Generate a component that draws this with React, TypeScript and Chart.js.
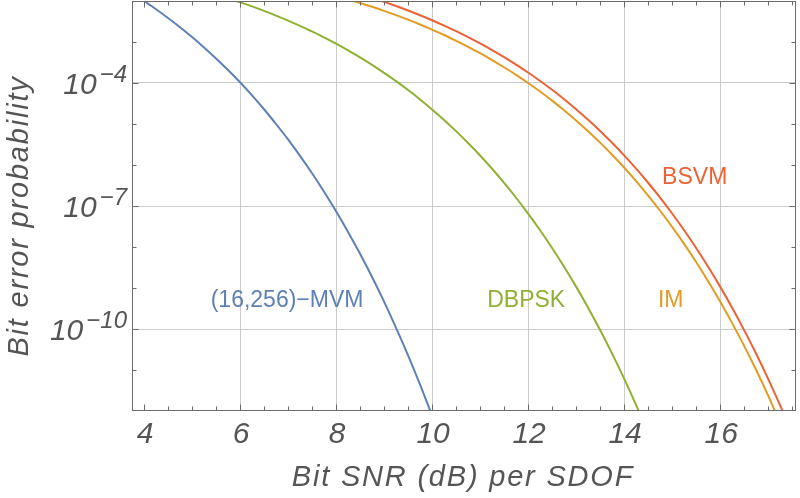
import { useEffect, useRef } from 'react'
import { Chart, registerables } from 'chart.js'

Chart.register(...registerables)

// Bit SNR (dB) per SDOF, one list per curve
const MVM_SNR = [
  3.75, 4, 4.25, 4.5, 4.75, 5, 5.25, 5.5, 5.75, 6, 6.25, 6.5, 6.75, 7, 7.25, 7.5, 7.75, 8, 8.25, 8.5,
  8.75, 9, 9.25, 9.5, 9.75, 10,
]
const MVM_BER = [
  1.5e-2, 1.0e-2, 6.3e-3, 3.85e-3, 2.29e-3, 1.32e-3, 7.38e-4, 3.98e-4, 2.07e-4, 1.04e-4, 4.98e-5,
  2.29e-5, 1.0e-5, 4.21e-6, 1.67e-6, 6.28e-7, 2.23e-7, 7.45e-8, 2.33e-8, 6.81e-9, 1.85e-9, 4.65e-10,
  1.07e-10, 2.28e-11, 4.42e-12, 7.8e-13,
]

const DBPSK_SNR = [
  5.75, 6, 6.25, 6.5, 6.75, 7, 7.25, 7.5, 7.75, 8, 8.25, 8.5, 8.75, 9, 9.25, 9.5, 9.75, 10, 10.25,
  10.5, 10.75, 11, 11.25, 11.5, 11.75, 12, 12.25, 12.5, 12.75, 13, 13.25, 13.5, 13.75, 14, 14.25, 14.5,
]
const DBPSK_BER = [
  1.17e-2, 9.33e-3, 7.38e-3, 5.74e-3, 4.41e-3, 3.33e-3, 2.47e-3, 1.81e-3, 1.29e-3, 9.1e-4, 6.25e-4,
  4.21e-4, 2.77e-4, 1.77e-4, 1.11e-4, 6.73e-5, 3.97e-5, 2.27e-5, 1.26e-5, 6.7e-6, 3.44e-6, 1.71e-6,
  8.09e-7, 3.67e-7, 1.59e-7, 6.55e-8, 2.56e-8, 9.46e-9, 3.3e-9, 1.08e-9, 3.31e-10, 9.46e-11, 2.51e-11,
  6.17e-12, 1.39e-12, 2.88e-13,
]

const IM_SNR = [
  8.25, 8.5, 8.75, 9, 9.25, 9.5, 9.75, 10, 10.25, 10.5, 10.75, 11, 11.25, 11.5, 11.75, 12, 12.25, 12.5,
  12.75, 13, 13.25, 13.5, 13.75, 14, 14.25, 14.5, 14.75, 15, 15.25, 15.5, 15.75, 16, 16.25, 16.5,
  16.75, 17, 17.25,
]
const IM_BER = [
  1.1e-2, 8.95e-3, 7.21e-3, 5.75e-3, 4.52e-3, 3.5e-3, 2.67e-3, 2.0e-3, 1.48e-3, 1.07e-3, 7.64e-4,
  5.32e-4, 3.63e-4, 2.42e-4, 1.58e-4, 1.0e-4, 6.19e-5, 3.72e-5, 2.17e-5, 1.22e-5, 6.67e-6, 3.52e-6,
  1.78e-6, 8.67e-7, 4.05e-7, 1.8e-7, 7.66e-8, 3.1e-8, 1.19e-8, 4.29e-9, 1.46e-9, 4.67e-10, 1.39e-10,
  3.87e-11, 9.98e-12, 2.38e-12, 5.19e-13,
]

const BSVM_SNR = [
  8.75, 9, 9.25, 9.5, 9.75, 10, 10.25, 10.5, 10.75, 11, 11.25, 11.5, 11.75, 12, 12.25, 12.5, 12.75, 13,
  13.25, 13.5, 13.75, 14, 14.25, 14.5, 14.75, 15, 15.25, 15.5, 15.75, 16, 16.25, 16.5, 16.75, 17,
  17.25, 17.5,
]
const BSVM_BER = [
  1.19e-2, 9.53e-3, 7.53e-3, 5.86e-3, 4.5e-3, 3.4e-3, 2.52e-3, 1.84e-3, 1.32e-3, 9.27e-4, 6.37e-4,
  4.29e-4, 2.81e-4, 1.8e-4, 1.12e-4, 6.83e-5, 4.03e-5, 2.3e-5, 1.27e-5, 6.78e-6, 3.48e-6, 1.72e-6,
  8.15e-7, 3.69e-7, 1.6e-7, 6.56e-8, 2.56e-8, 9.46e-9, 3.3e-9, 1.08e-9, 3.3e-10, 9.4e-11, 2.49e-11,
  6.1e-12, 1.37e-12, 2.83e-13,
]

// axis ticks
const X_LABELS = [4, 6, 8, 10, 12, 14, 16]
const X_GRID = [6, 8, 10, 12, 14, 16]
const X_MINOR = [
  4.5, 5, 5.5, 6.5, 7, 7.5, 8.5, 9, 9.5, 10.5, 11, 11.5, 12.5, 13, 13.5, 14.5, 15, 15.5, 16.5, 17, 17.5,
]
const Y_LABEL_EXP = [-4, -7, -10]
const Y_MINOR_EXP = [-3, -5, -6, -8, -9, -11]

const COLORS = {
  mvm: '#5e81b5',
  dbpsk: '#8fb032',
  im: '#e19c24',
  bsvm: '#eb6235',
}
const TEXT = '#555555'
const FRAME = '#6a6a6a'
const GRID = '#cccccc'

// curve labels, in data coordinates
const CURVE_LABELS = [
  { text: '(16,256)\u2212MVM', x: 6.98, y: 3.5e-10, color: COLORS.mvm },
  { text: 'DBPSK', x: 11.96, y: 3.5e-10, color: COLORS.dbpsk },
  { text: 'IM', x: 14.97, y: 3.5e-10, color: COLORS.im },
  { text: 'BSVM', x: 15.47, y: 3.47e-7, color: COLORS.bsvm },
]

const SANS = '"Liberation Sans", Arial, sans-serif'

const framePlugin = {
  id: 'frame',
  afterDatasetsDraw(chart: Chart) {
    const { ctx, chartArea: a } = chart
    const xs = chart.scales.x
    const ys = chart.scales.y
    const L = Math.round(a.left) + 0.5
    const R = Math.round(a.right) - 0.5
    const T = Math.round(a.top) + 0.5
    const B = Math.round(a.bottom) - 0.5
    ctx.save()
    ctx.strokeStyle = FRAME
    ctx.lineWidth = 1
    ctx.strokeRect(L, T, R - L, B - T)

    ctx.beginPath()
    const xTick = (v: number, len: number) => {
      const px = Math.round(xs.getPixelForValue(v)) + 0.5
      ctx.moveTo(px, B)
      ctx.lineTo(px, B - len)
      ctx.moveTo(px, T)
      ctx.lineTo(px, T + len)
    }
    const yTick = (v: number, len: number) => {
      const py = Math.round(ys.getPixelForValue(v)) + 0.5
      ctx.moveTo(L, py)
      ctx.lineTo(L + len, py)
      ctx.moveTo(R, py)
      ctx.lineTo(R - len, py)
    }
    X_LABELS.forEach((v) => xTick(v, 6))
    X_MINOR.forEach((v) => xTick(v, 4))
    Y_LABEL_EXP.forEach((e) => yTick(Math.pow(10, e), 6))
    Y_MINOR_EXP.forEach((e) => yTick(Math.pow(10, e), 4))
    ctx.stroke()
    ctx.restore()
  },
  afterDraw(chart: Chart) {
    const { ctx, chartArea: a } = chart
    const xs = chart.scales.x
    const ys = chart.scales.y
    ctx.save()
    ctx.fillStyle = TEXT
    ctx.textBaseline = 'alphabetic'

    // x tick labels
    ctx.font = `italic 30px ${SANS}`
    ctx.textAlign = 'center'
    X_LABELS.forEach((v) => {
      ctx.fillText(String(v), xs.getPixelForValue(v) + 1, 443)
    })

    // y tick labels with superscript
    Y_LABEL_EXP.forEach((e) => {
      const py = ys.getPixelForValue(Math.pow(10, e))
      const sup = '\u2212' + Math.abs(e)
      ctx.font = `italic 24px ${SANS}`
      ctx.textAlign = 'right'
      const right = a.left - 5
      const w = ctx.measureText(sup).width
      ctx.fillText(sup, right, py - 1)
      ctx.font = `italic 30px ${SANS}`
      ctx.fillText('10', right - w - 3, py + 11)
    })

    // axis titles
    ctx.font = `italic 29px ${SANS}`
    ctx.textAlign = 'center'
    ;(ctx as any).letterSpacing = '1.8px'
    ctx.fillText('Bit SNR (dB) per SDOF', 463, 486)
    ctx.save()
    ctx.translate(28, 216)
    ctx.rotate(-Math.PI / 2)
    ctx.fillText('Bit error probability', 0, 0)
    ctx.restore()
    ;(ctx as any).letterSpacing = '0px'

    // curve labels
    ctx.font = `23px ${SANS}`
    CURVE_LABELS.forEach((lab) => {
      ctx.fillStyle = lab.color
      ctx.fillText(lab.text, xs.getPixelForValue(lab.x), ys.getPixelForValue(lab.y))
    })
    ctx.restore()
  },
}

const toPoints = (xs: number[], ys: number[]) => xs.map((x, i) => ({ x, y: ys[i] }))

export default function App() {
  const canvasRef = useRef<HTMLCanvasElement>(null)

  useEffect(() => {
    document.body.style.margin = '0'
    if (!canvasRef.current) return
    const ctx = canvasRef.current.getContext('2d')
    if (!ctx) return

    const line = (label: string, data: { x: number; y: number }[], color: string) => ({
      label,
      data,
      borderColor: color,
      borderWidth: 2,
      pointRadius: 0,
      fill: false,
      cubicInterpolationMode: 'monotone' as const,
    })

    const chart = new Chart(ctx, {
      type: 'line',
      data: {
        datasets: [
          line('(16,256)-MVM', toPoints(MVM_SNR, MVM_BER), COLORS.mvm),
          line('DBPSK', toPoints(DBPSK_SNR, DBPSK_BER), COLORS.dbpsk),
          line('IM', toPoints(IM_SNR, IM_BER), COLORS.im),
          line('BSVM', toPoints(BSVM_SNR, BSVM_BER), COLORS.bsvm),
        ],
      },
      options: {
        responsive: true,
        maintainAspectRatio: false,
        animation: false,
        layout: { padding: { left: 0, right: 4, top: 1, bottom: 0 } },
        plugins: {
          legend: { display: false },
          tooltip: { enabled: false },
        },
        scales: {
          x: {
            type: 'linear',
            min: 3.75,
            max: 17.58,
            afterBuildTicks: (scale) => {
              scale.ticks = X_GRID.map((v) => ({ value: v }))
            },
            afterFit: (scale) => {
              scale.height = 87
            },
            ticks: { display: false },
            grid: { color: GRID, lineWidth: 1, drawTicks: false },
            border: { display: false },
          },
          y: {
            type: 'logarithmic',
            min: 1e-12,
            max: 1e-2,
            afterBuildTicks: (scale) => {
              scale.ticks = Y_LABEL_EXP.map((e) => ({ value: Math.pow(10, e) }))
            },
            afterFit: (scale) => {
              scale.width = 132
            },
            ticks: { display: false },
            grid: { color: GRID, lineWidth: 1, drawTicks: false },
            border: { display: false },
          },
        },
      },
      plugins: [framePlugin],
    })

    return () => {
      chart.destroy()
    }
  }, [])

  return (
    <div style={{ position: 'relative', width: 800, height: 498, background: '#ffffff' }}>
      <canvas ref={canvasRef} />
    </div>
  )
}
